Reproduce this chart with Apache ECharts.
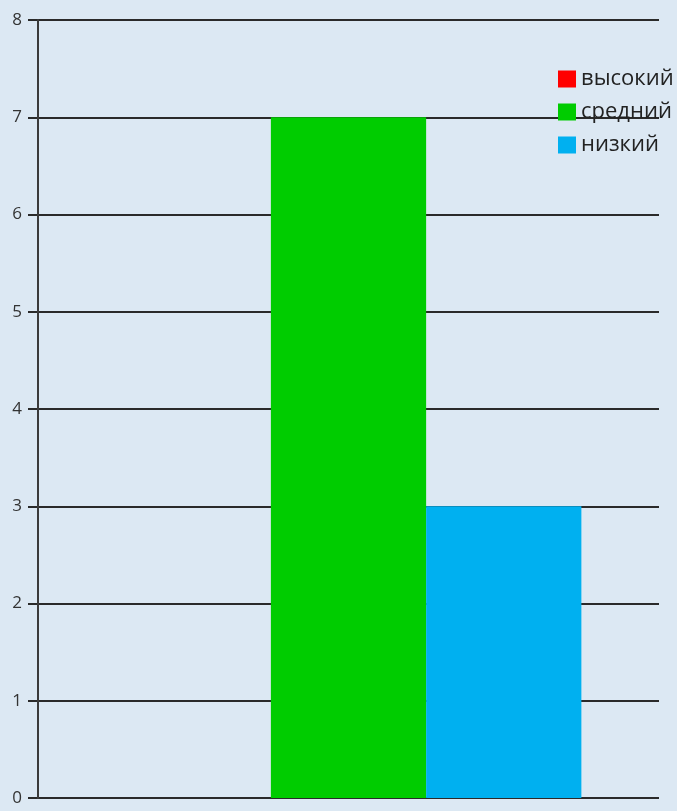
<!DOCTYPE html>
<html>
<head>
<meta charset="utf-8">
<script src="https://cdn.jsdelivr.net/npm/echarts@6/dist/echarts.min.js"></script>
<style>
html,body{margin:0;padding:0;background:#dce8f3;}
#c{width:677px;height:811px;}
</style>
</head>
<body>
<div id="c"></div>
<script>
const categories = [''];
const seriesNames = ['высокий', 'средний', 'низкий'];
const valuesHigh = [0];
const valuesMid = [7];
const valuesLow = [3];
const yTicks = [0, 1, 2, 3, 4, 5, 6, 7, 8];
const colors = ['#ff0000', '#00cc00', '#00b0f0'];

const chart = echarts.init(document.getElementById('c'));
const data = [valuesHigh, valuesMid, valuesLow];
const yMin = yTicks[0], yMax = yTicks[yTicks.length - 1];
const lineColor = '#2a2a2a';
chart.setOption({
  backgroundColor: 'transparent',
  animation: false,
  textStyle: { fontFamily: 'Open Sans' },
  grid: [
    { left: 38, right: 18, top: 20, bottom: 13, containLabel: false },
    { left: 28, right: 18, top: 20, bottom: 13, containLabel: false }
  ],
  legend: {
    orient: 'vertical',
    left: 553, top: 63,
    itemWidth: 18, itemHeight: 17, itemGap: 11,
    icon: 'rect',
    textStyle: { fontSize: 22, color: '#222', fontFamily: 'Open Sans' },
    data: seriesNames
  },
  xAxis: [{
    type: 'category', data: categories, gridIndex: 0,
    axisLine: { show: false }, axisTick: { show: false }, axisLabel: { show: false }
  }, {
    type: 'category', data: categories, gridIndex: 1,
    axisLine: { show: false }, axisTick: { show: false }, axisLabel: { show: false }
  }],
  yAxis: [{
    type: 'value', min: yMin, max: yMax, interval: 1, gridIndex: 0, z: 5,
    axisLine: { show: true, onZero: false, lineStyle: { color: '#3a3a3a', width: 2 } },
    axisTick: { show: false },
    axisLabel: { fontSize: 17, color: '#333', margin: 16, fontFamily: 'Open Sans' },
    splitLine: { show: false }
  }, {
    type: 'value', min: yMin, max: yMax, interval: 1, gridIndex: 1,
    axisLine: { show: false, onZero: false },
    axisTick: { show: false },
    axisLabel: { show: false },
    splitLine: { show: true, lineStyle: { color: lineColor, width: 2 } }
  }],
  series: seriesNames.map((n, i) => ({
    name: n, type: 'bar', data: data[i], xAxisIndex: 0, yAxisIndex: 0,
    barGap: '0%', barCategoryGap: '25%',
    itemStyle: { color: colors[i] }, z: 3
  }))
});
</script>
</body>
</html>
